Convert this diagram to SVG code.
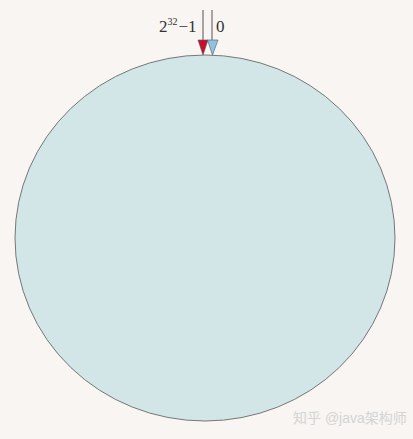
<svg xmlns="http://www.w3.org/2000/svg" width="413" height="439" viewBox="0 0 413 439">
<style>
.lbl{font-family:"Liberation Serif","DejaVu Serif",serif;fill:#333;font-size:17px}
.wm{font-family:"Liberation Sans","Noto Sans CJK SC",sans-serif;fill:#d4d4d4;font-size:14px}
</style>
<rect width="413" height="439" fill="#f8f5f2"/>
<g id="ring">
<ellipse cx="205" cy="238" rx="190" ry="183" fill="#d2e6e7" stroke="#777" stroke-width="1"/>
</g>
<g id="connectors">
<line x1="203" y1="10" x2="203" y2="42" stroke="#555" stroke-width="1"/>
<polygon points="198,40 208,40 203,55" fill="#c8102e" stroke="#555" stroke-width="0.6"/>
<line x1="212" y1="10" x2="212" y2="42" stroke="#555" stroke-width="1"/>
<polygon points="207.5,40 218,40 212.5,55" fill="#8ec3e6" stroke="#555" stroke-width="0.6"/>
</g>
<g id="labels">
<text class="lbl" x="159" y="32">2<tspan font-size="10" dy="-7">32</tspan><tspan dy="7" dx="1">−1</tspan></text>
<text class="lbl" x="216" y="32">0</text>
</g>
<text class="wm" x="293" y="423">知乎 @java架构师</text>
</svg>
